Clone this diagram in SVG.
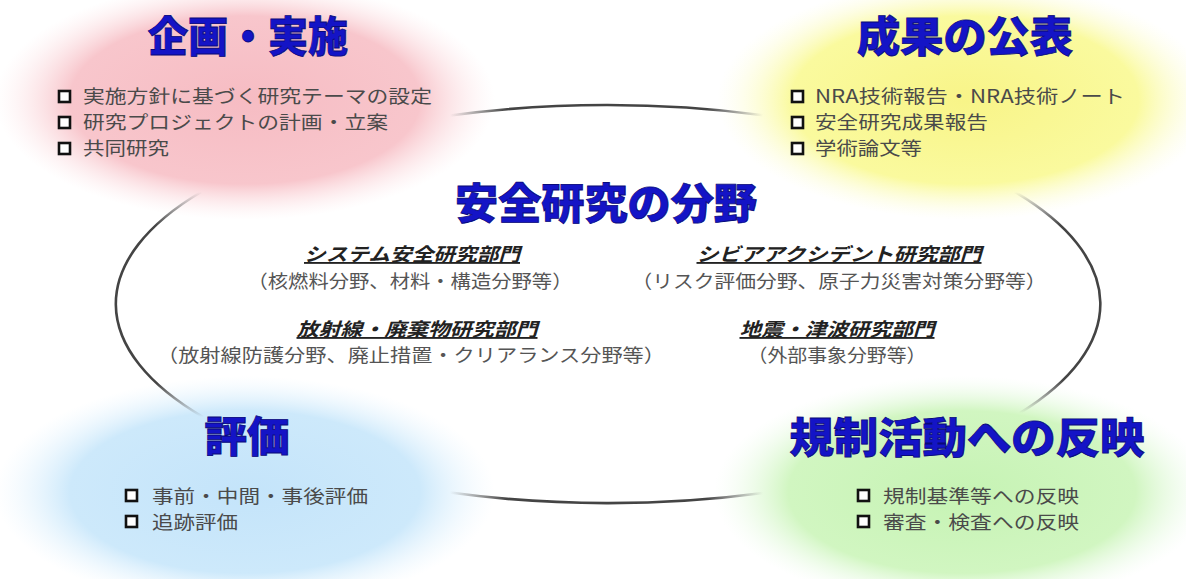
<svg xmlns="http://www.w3.org/2000/svg" width="1186" height="579" viewBox="0 0 1186 579">
<style>
.title{font-family:"Noto Sans CJK JP","Noto Sans",sans-serif;font-weight:900;font-size:42px;fill:#1414c6;stroke:#0a0a7a;stroke-width:0.8px}
.item{font-family:"Noto Sans CJK JP","Noto Sans",sans-serif;font-size:18.5px;fill:#4a4a4a}
.head{font-family:"Noto Sans CJK JP","Noto Sans",sans-serif;font-size:18.5px;font-weight:700;font-style:italic;fill:#222;text-decoration:underline}
.sub{font-family:"Noto Sans CJK JP","Noto Sans",sans-serif;font-size:18.5px;fill:#555}
.bul{fill:#fff;stroke:#111;stroke-width:2.6}
.arc{fill:none;stroke-width:2.6}
</style>
<defs>
<radialGradient id="gPink"><stop offset="0" stop-color="#f6bcc3"/><stop offset="0.7" stop-color="#f8c6cc"/><stop offset="1" stop-color="#fde8ea" stop-opacity="0"/></radialGradient>
<radialGradient id="gYellow"><stop offset="0" stop-color="#f8f488"/><stop offset="0.7" stop-color="#fafa9e"/><stop offset="1" stop-color="#fdfde0" stop-opacity="0"/></radialGradient>
<radialGradient id="gBlue"><stop offset="0" stop-color="#c4e4fa"/><stop offset="0.7" stop-color="#cde9fb"/><stop offset="1" stop-color="#eaf6fe" stop-opacity="0"/></radialGradient>
<radialGradient id="gGreen"><stop offset="0" stop-color="#c6f3b4"/><stop offset="0.7" stop-color="#d1f6c1"/><stop offset="1" stop-color="#eefced" stop-opacity="0"/></radialGradient>
<linearGradient id="fadeH" x1="0" y1="0" x2="1" y2="0"><stop offset="0" stop-color="#444" stop-opacity="0"/><stop offset="0.18" stop-color="#444"/><stop offset="0.82" stop-color="#444"/><stop offset="1" stop-color="#444" stop-opacity="0"/></linearGradient>
<linearGradient id="fadeV" x1="0" y1="0" x2="0" y2="1"><stop offset="0" stop-color="#444" stop-opacity="0"/><stop offset="0.15" stop-color="#444"/><stop offset="0.85" stop-color="#444"/><stop offset="1" stop-color="#444" stop-opacity="0"/></linearGradient>
</defs>
<rect width="1186" height="579" fill="#fff"/>
<g id="blobs">
<ellipse cx="245" cy="100" rx="250" ry="120" fill="url(#gPink)"/>
<ellipse cx="965" cy="100" rx="248" ry="120" fill="url(#gYellow)"/>
<ellipse cx="245" cy="492" rx="250" ry="116" fill="url(#gBlue)"/>
<ellipse cx="962" cy="492" rx="248" ry="116" fill="url(#gGreen)"/>
</g>
<g id="connectors">
<path class="arc" stroke="url(#fadeH)" d="M450,115.5 A492,199 0 0 1 763,115.2"/>
<path class="arc" stroke="url(#fadeV)" d="M1015,192 A492,199 0 0 1 1020,413"/>
<path class="arc" stroke="url(#fadeH)" d="M763,493 A492,199 0 0 1 450,492.5"/>
<path class="arc" stroke="url(#fadeV)" d="M203,417 A492,199 0 0 1 201,192"/>
</g>
<g id="node-planning">
<text class="title" x="248" y="52" text-anchor="middle" textLength="200" lengthAdjust="spacingAndGlyphs">企画・実施</text>
<rect class="bul" x="59" y="91" width="11" height="11"/>
<rect class="bul" x="59" y="117" width="11" height="11"/>
<rect class="bul" x="59" y="143" width="11" height="11"/>
<text class="item" x="83" y="103" textLength="349" lengthAdjust="spacingAndGlyphs">実施方針に基づく研究テーマの設定</text>
<text class="item" x="83" y="129" textLength="305" lengthAdjust="spacingAndGlyphs">研究プロジェクトの計画・立案</text>
<text class="item" x="83" y="155" textLength="86" lengthAdjust="spacingAndGlyphs">共同研究</text>
</g>
<g id="node-publication">
<text class="title" x="965" y="52" text-anchor="middle" textLength="216" lengthAdjust="spacingAndGlyphs">成果の公表</text>
<rect class="bul" x="792" y="91" width="11" height="11"/>
<rect class="bul" x="792" y="117" width="11" height="11"/>
<rect class="bul" x="792" y="143" width="11" height="11"/>
<text class="item" x="815" y="103" textLength="310" lengthAdjust="spacingAndGlyphs">NRA技術報告・NRA技術ノート</text>
<text class="item" x="815" y="129" textLength="173" lengthAdjust="spacingAndGlyphs">安全研究成果報告</text>
<text class="item" x="815" y="155" textLength="107" lengthAdjust="spacingAndGlyphs">学術論文等</text>
</g>
<g id="node-evaluation">
<text class="title" x="247" y="452" text-anchor="middle" textLength="85" lengthAdjust="spacingAndGlyphs">評価</text>
<rect class="bul" x="126" y="490" width="11" height="11"/>
<rect class="bul" x="126" y="516" width="11" height="11"/>
<text class="item" x="152" y="503" textLength="216" lengthAdjust="spacingAndGlyphs">事前・中間・事後評価</text>
<text class="item" x="152" y="529" textLength="86" lengthAdjust="spacingAndGlyphs">追跡評価</text>
</g>
<g id="node-regulation">
<text class="title" x="967" y="453" text-anchor="middle" textLength="355" lengthAdjust="spacingAndGlyphs">規制活動への反映</text>
<rect class="bul" x="858" y="490" width="11" height="11"/>
<rect class="bul" x="858" y="516" width="11" height="11"/>
<text class="item" x="883" y="503" textLength="196" lengthAdjust="spacingAndGlyphs">規制基準等への反映</text>
<text class="item" x="883" y="529" textLength="196" lengthAdjust="spacingAndGlyphs">審査・検査への反映</text>
</g>
<g id="node-center">
<text class="title" x="606" y="219" text-anchor="middle" textLength="302" lengthAdjust="spacingAndGlyphs">安全研究の分野</text>
<text class="head" x="412" y="261" text-anchor="middle" textLength="216" lengthAdjust="spacingAndGlyphs">システム安全研究部門</text>
<text class="sub" x="410" y="288" text-anchor="middle" textLength="325" lengthAdjust="spacingAndGlyphs">（核燃料分野、材料・構造分野等）</text>
<text class="head" x="417" y="336" text-anchor="middle" textLength="241" lengthAdjust="spacingAndGlyphs">放射線・廃棄物研究部門</text>
<text class="sub" x="411" y="362" text-anchor="middle" textLength="508" lengthAdjust="spacingAndGlyphs">（放射線防護分野、廃止措置・クリアランス分野等）</text>
<text class="head" x="839" y="261" text-anchor="middle" textLength="285" lengthAdjust="spacingAndGlyphs">シビアアクシデント研究部門</text>
<text class="sub" x="839" y="288" text-anchor="middle" textLength="415" lengthAdjust="spacingAndGlyphs">（リスク評価分野、原子力災害対策分野等）</text>
<text class="head" x="837" y="336" text-anchor="middle" textLength="195" lengthAdjust="spacingAndGlyphs">地震・津波研究部門</text>
<text class="sub" x="837" y="362" text-anchor="middle" textLength="179" lengthAdjust="spacingAndGlyphs">（外部事象分野等）</text>
</g>
</svg>
